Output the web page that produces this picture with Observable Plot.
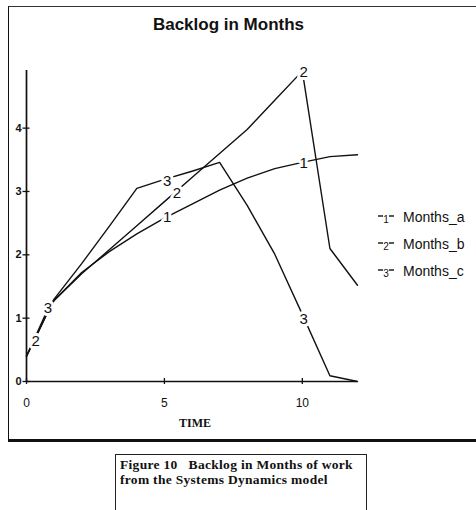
<!DOCTYPE html>
<html>
<head>
<meta charset="utf-8">
<script src="https://cdn.jsdelivr.net/npm/d3@7"></script>
<script src="https://cdn.jsdelivr.net/npm/@observablehq/plot@0.6"></script>
<style>
  html, body { margin: 0; padding: 0; background: #fff; }
  #fig { position: relative; width: 476px; height: 510px; overflow: hidden; font-family: "Liberation Sans", Arial, sans-serif; color: #111; }
  #frame { position: absolute; left: 8px; top: 6px; width: 480px; height: 436px; box-sizing: border-box;
           border-left: 1.5px solid #111; border-top: 1px solid #333; border-bottom: 3px solid #111; }
  #title { position: absolute; left: 0; width: 457px; top: 16px; text-align: center; font-weight: bold; font-size: 17px; line-height: 17px; }
  #chart { position: absolute; left: 0; top: 0; }
  #legend { position: absolute; left: 378px; top: 0; }
  .lrow { position: absolute; left: 0; height: 18px; white-space: nowrap; font-size: 14px; line-height: 18px; }
  .lrow svg { position: absolute; left: 0; top: 0; }
  .lrow span { position: absolute; left: 25px; top: 0; }
  #caption { position: absolute; left: 115px; top: 454px; width: 252px; height: 80px; box-sizing: border-box;
             border: 1.2px solid #222; padding: 3px 0 0 4px;
             font-family: "Liberation Serif", "Times New Roman", serif; font-weight: bold; font-size: 13.5px; letter-spacing: 0.3px; line-height: 14.5px; white-space: pre; }
</style>
</head>
<body>
<div id="fig">
  <div id="frame"></div>
  <div id="chart"></div>
  <div id="title"></div>
  <div id="legend"></div>
  <div id="caption"></div>
</div>
<script>
// ---- data ----
const titleText = "Backlog in Months";
const xLabel = "TIME";
const captionLines = ["Figure 10   Backlog in Months of work", "from the Systems Dynamics model"];

const times   = [0, 0.25, 0.5, 0.75, 1, 2, 3, 4, 5, 6, 7, 8, 9, 10, 11, 12];
const monthsA = [0.4, 0.62, 0.85, 1.08, 1.28, 1.72, 2.05, 2.33, 2.58, 2.8, 3.02, 3.21, 3.36, 3.46, 3.55, 3.58];
const monthsB = [0.4, 0.62, 0.85, 1.08, 1.28, 1.7, 2.08, 2.46, 2.84, 3.22, 3.6, 3.98, 4.44, 4.9, 2.1, 1.52];
const monthsC = [0.4, 0.64, 0.88, 1.12, 1.3, 1.86, 2.45, 3.05, 3.19, 3.32, 3.46, 2.78, 2.01, 1.06, 0.09, 0.0];

const seriesNames = ["Months_a", "Months_b", "Months_c"];
const seriesKeys  = ["1", "2", "3"];

const yTicks = [0, 1, 2, 3, 4];
const xTicks = [0, 5, 10];

// curve-number labels placed along the lines
const labelText  = ["2", "3", "1", "2", "3", "1", "2", "3"];
const labelTime  = [0.33, 0.78, 5.1, 5.45, 5.1, 10.05, 10.05, 10.05];
const labelValue = [0.64, 1.15, 2.6, 2.98, 3.17, 3.44, 4.88, 0.99];

// ---- build tables ----
const rows = [];
[monthsA, monthsB, monthsC].forEach((vals, i) =>
  vals.forEach((v, j) => rows.push({series: seriesNames[i], time: times[j], value: v})));
const labels = labelText.map((t, i) => ({text: t, time: labelTime[i], value: labelValue[i]}));

const ink = "#111";
const chart = Plot.plot({
  width: 476,
  height: 441,
  marginLeft: 26,
  marginRight: 119,
  marginTop: 70,
  marginBottom: 60,
  x: {domain: [0, 12]},
  y: {domain: [0, 4.91]},
  style: {background: "transparent", fontFamily: "Liberation Sans, Arial, sans-serif", color: ink, overflow: "visible"},
  marks: [
    Plot.ruleX([0], {stroke: ink, strokeWidth: 1.7}),
    Plot.ruleY([0], {stroke: ink, strokeWidth: 1.7}),
    Plot.axisY({ticks: yTicks, tickFormat: "d", tickSize: 7, dx: 3.5, tickPadding: 1.5, fontSize: 11, fontWeight: "bold", label: null, stroke: ink, strokeWidth: 1.3}),
    Plot.axisX({ticks: xTicks, tickFormat: "d", tickSize: 6, dy: -3, tickPadding: 13.5, fontSize: 12, label: null, stroke: ink, strokeWidth: 1.3}),
    Plot.text([xLabel], {frameAnchor: "bottom", dy: 42, dx: 3, lineAnchor: "middle", fontFamily: "Liberation Serif, Times New Roman, serif", fontWeight: "bold", fontSize: 12, fill: ink}),
    Plot.lineY(rows, {x: "time", y: "value", z: "series", stroke: ink, strokeWidth: 1.4}),
    Plot.text(labels, {x: "time", y: "value", text: "text", fill: ink, stroke: "white", strokeWidth: 6, fontSize: 15})
  ]
});
document.getElementById("chart").appendChild(chart);

document.getElementById("title").textContent = titleText;

// legend
const legendCenters = [217, 244, 271];
const legend = d3.select("#legend");
seriesNames.forEach((name, i) => {
  const row = legend.append("div").attr("class", "lrow").style("top", (legendCenters[i] - 9) + "px");
  const svg = row.append("svg").attr("width", 16).attr("height", 20);
  svg.append("line").attr("x1", 0).attr("x2", 5).attr("y1", 8).attr("y2", 8).attr("stroke", ink).attr("stroke-width", 1.4);
  svg.append("line").attr("x1", 11).attr("x2", 16).attr("y1", 8).attr("y2", 8).attr("stroke", ink).attr("stroke-width", 1.4);
  svg.append("text").attr("x", 8).attr("y", 15).attr("text-anchor", "middle").attr("font-size", 10).attr("font-family", "Liberation Sans, Arial, sans-serif").attr("fill", ink).text(seriesKeys[i]);
  row.append("span").text(name);
});

document.getElementById("caption").textContent = captionLines.join("\n");
</script>
</body>
</html>
